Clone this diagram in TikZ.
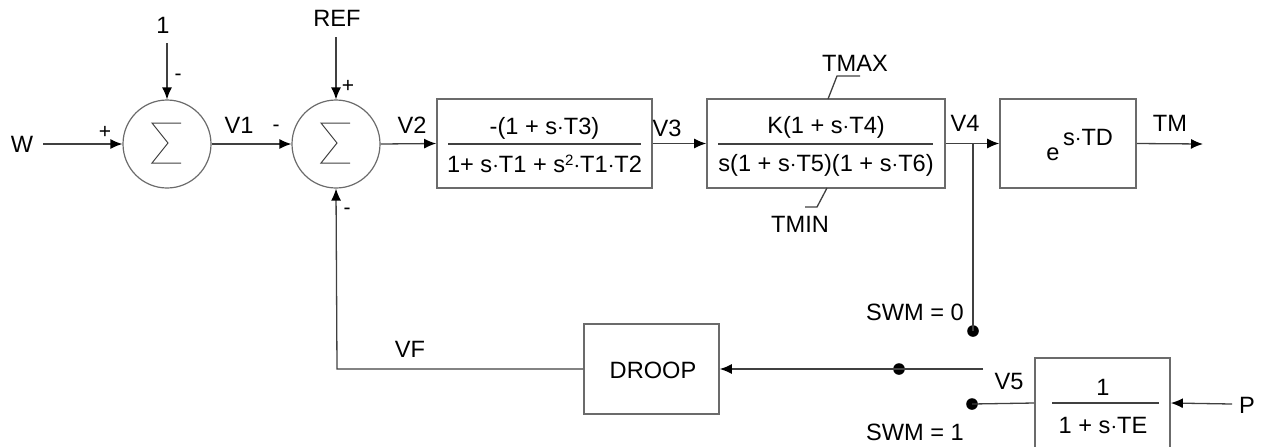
\documentclass[tikz,border=0pt]{standalone}
\usepackage{fontspec}
\setmainfont{Liberation Sans}
\usetikzlibrary{arrows.meta}
\definecolor{ln}{gray}{0.25}
\definecolor{bx}{gray}{0.42}
\tikzset{
  every node/.style={font=\fontsize{11.8}{14}\selectfont, inner sep=0pt},
  sgn/.style={font=\fontsize{10.5}{12}\selectfont},
  sumj/.style={circle, draw=bx, line width=0.6pt, minimum size=44pt},
  blk/.style={rectangle, draw=bx, line width=0.8pt},
  wire/.style={draw=ln, line width=0.65pt},
  arr/.style={wire, -{Latex[length=6pt,width=5pt,color=black]}},
  fracline/.style={draw=ln, line width=0.65pt},
  dot/.style={circle, fill=black, minimum size=5.8pt},
  sigma/.style={draw=ln, line width=0.5pt, line join=miter}
}
\newcommand{\sqtwo}{\raisebox{0.55ex}{\fontsize{7.5}{8}\selectfont 2}}
\begin{document}
\begin{tikzpicture}[x=0.5pt, y=-0.5pt]
\useasboundingbox (0,0) rectangle (1263,446);
\clip (0,0) rectangle (1263,446);
% summing junctions
\node[sumj] (s1) at (167,144) {};
\node[sumj] (s2) at (336,144) {};
\draw[sigma] (181,123) -- (152,123) -- (168,143) -- (152,163) -- (181,163);
\draw[sigma] (350,123) -- (321,123) -- (337,143) -- (321,163) -- (350,163);
% blocks
\node[blk, minimum width=107.5pt, minimum height=44.5pt] (b1) at (544.5,143.5) {};
\node[blk, minimum width=119pt, minimum height=44.5pt] (b2) at (826,143.5) {};
\node[blk, minimum width=68pt, minimum height=44.5pt] (b3) at (1068,143.5) {};
\node[blk, minimum width=67.5pt, minimum height=45pt] (droop) at (651.5,369) {};
\node[blk, minimum width=67.5pt, minimum height=45pt] (b4) at (1102.5,403) {};
% block texts
\node (b1n) at (544.5,128) {-(1 + s$\cdot$T3)};
\node (b1d) at (544.5,164) {1+ s$\cdot$T1 + s\sqtwo$\cdot$T1$\cdot$T2};
\draw[fracline] (448,144) -- (641,144);
\node (b2n) at (826,127) {K(1 + s$\cdot$T4)};
\node (b2d) at (826,165) {s(1 + s$\cdot$T5)(1 + s$\cdot$T6)};
\draw[fracline] (718,144) -- (933,144);
\node (b3e) at (1053,154) {e};
\node (b3x) at (1088,137) {s$\cdot$TD};
\node (droopt) at (653,370) {DROOP};
\node (b4n) at (1103,387) {1};
\node (b4d) at (1103,425) {1 + s$\cdot$TE};
\draw[fracline] (1052,403) -- (1159,403);
% labels
\node (W) at (22,144) {W};
\node (one) at (163,25) {1};
\node (REF) at (337,18) {REF};
\node (V1) at (239,125) {V1};
\node (V2) at (412,125) {V2};
\node (V3) at (667,128) {V3};
\node (V4) at (965,123) {V4};
\node (TM) at (1170,123) {TM};
\node (TMAX) at (855,63) {TMAX};
\node (TMIN) at (800,224) {TMIN};
\node (VF) at (410,349) {VF};
\node (V5) at (1009,381) {V5};
\node (SWM0) at (915,312) {SWM = 0};
\node (SWM1) at (915,432) {SWM = 1};
\node (P) at (1247,405) {P};
% signs
\node[sgn] (p1) at (105,132) {+};
\node[sgn] (m1) at (178,77) {-};
\node[sgn] (m2) at (276,128) {-};
\node[sgn] (p2) at (348,86) {+};
\node[sgn] (m3) at (347,211) {-};
% coordinates
\coordinate (cW) at (43,144);
\coordinate (cone) at (167,43);
\coordinate (cREF) at (336,37);
\coordinate (cTM) at (1203,144);
\coordinate (j4) at (973,144);
\coordinate (cfb) at (337,369);
\coordinate (swend) at (983,369);
\coordinate (cP) at (1232,404);
\node[dot] (sw0) at (973,331) {};
\node[dot] (swc) at (899,369) {};
\node[dot] (sw1) at (972,404) {};
% connectors
\draw[arr] (cW) -- (s1.west);
\draw[arr] (cone) -- (s1.north);
\draw[arr] (s1.east) -- (s2.west);
\draw[arr] (cREF) -- (s2.north);
\draw[arr] (s2.east) -- (b1.west);
\draw[arr] (b1.east) -- (b2.west);
\draw[arr] (b2.east) -- (b3.west);
\draw[arr] (b3.east) -- (cTM);
\draw[wire] (j4) -- (sw0.center);
\draw[arr] (droop.west) -- (cfb) -- (s2.south);
\draw[arr] (swend) -- (droop.east);
\draw[wire] (sw1.center) -- (b4.west);
\draw[arr] (cP) -- (b4.east);
% limit leaders
\draw[wire] (828,99) -- (837,76) -- (860,76);
\draw[wire] (827,188) -- (817,207) -- (805,207);
\end{tikzpicture}
\end{document}
